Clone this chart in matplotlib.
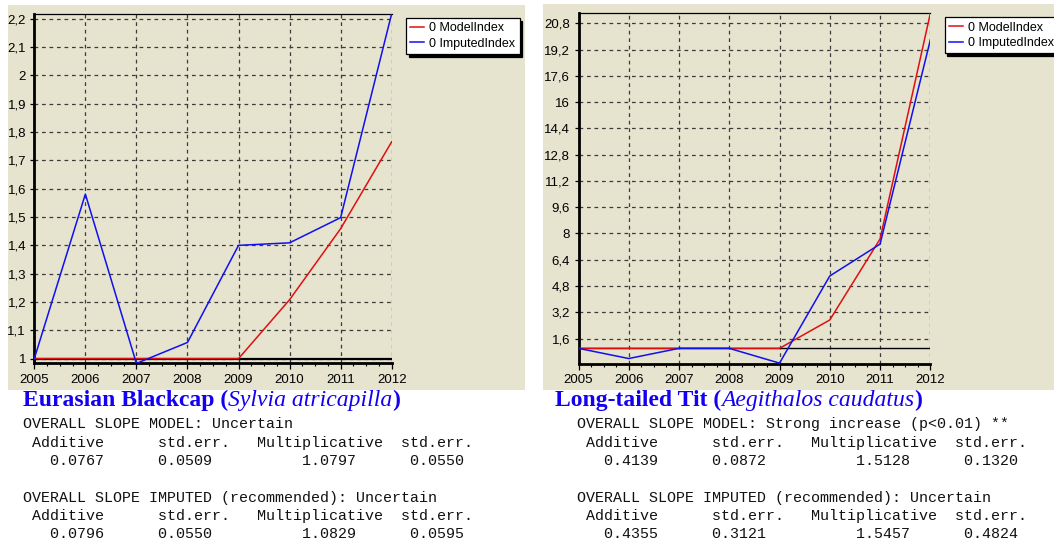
import matplotlib
matplotlib.use("Agg")
import matplotlib.pyplot as plt
from matplotlib.patches import Rectangle
from matplotlib.ticker import FixedLocator, AutoMinorLocator, FuncFormatter

W, H = 1054, 541
BEIGE = "#E6E3CE"
RED = "#E01010"
BLUE = "#1010F0"

years = [2005, 2006, 2007, 2008, 2009, 2010, 2011, 2012]

# Eurasian Blackcap
blackcap_model = [1.0, 1.0, 1.0, 1.0, 1.0, 1.208, 1.459, 1.766]
blackcap_imputed = [1.0, 1.581, 0.983, 1.057, 1.40, 1.409, 1.498, 2.219]
blackcap_yticks = [1.0, 1.1, 1.2, 1.3, 1.4, 1.5, 1.6, 1.7, 1.8, 1.9, 2.0, 2.1, 2.2]

# Long-tailed Tit
tit_model = [1.0, 1.0, 1.0, 1.0, 1.0, 2.73, 7.66, 21.4]
tit_imputed = [1.0, 0.38, 1.0, 1.0, 0.1, 5.41, 7.35, 19.78]
tit_yticks = [1.6, 3.2, 4.8, 6.4, 8.0, 9.6, 11.2, 12.8, 14.4, 16.0, 17.6, 19.2, 20.8]

series_labels = ["0 ModelIndex", "0 ImputedIndex"]

blackcap_slope_model = ["Uncertain", "0.0767", "0.0509", "1.0797", "0.0550"]
blackcap_slope_imputed = ["Uncertain", "0.0796", "0.0550", "1.0829", "0.0595"]
tit_slope_model = ["Strong increase (p<0.01) **", "0.4139", "0.0872", "1.5128", "0.1320"]
tit_slope_imputed = ["Uncertain", "0.4355", "0.3121", "1.5457", "0.4824"]

fig = plt.figure(figsize=(W / 100, H / 100), dpi=100)
fig.patch.set_facecolor("white")


def px_rect(x0, y0, x1, y1):
    return [x0 / W, 1 - y1 / H, (x1 - x0) / W, (y1 - y0) / H]


def comma(v, pos=None):
    s = f"{round(v, 1):g}"
    return s.replace(".", ",")


def panel(box, bg, ylim, yticks, model, imputed, legend_xy, base_lw):
    x0, y0, x1, y1 = bg
    fig.add_artist(Rectangle((x0 / W, 1 - y1 / H), (x1 - x0) / W, (y1 - y0) / H,
                             transform=fig.transFigure, facecolor=BEIGE,
                             edgecolor="none", zorder=-5))
    ax = fig.add_axes(px_rect(*box))
    ax.set_facecolor(BEIGE)
    ax.set_xlim(years[0], years[-1])
    ax.set_ylim(*ylim)
    ax.xaxis.set_major_locator(FixedLocator(years))
    ax.xaxis.set_minor_locator(AutoMinorLocator(4))
    ax.yaxis.set_major_locator(FixedLocator(yticks))
    ax.yaxis.set_major_formatter(FuncFormatter(comma))
    ax.grid(True, which="major", color="#3c3c3c", linestyle=(0, (3, 3)), linewidth=0.9)
    ax.set_axisbelow(True)

    ax.axhline(1.0, color="black", lw=base_lw, zorder=2)
    ax.plot(years, model, color=RED, lw=1.1, zorder=3, label=series_labels[0])
    ax.plot(years, imputed, color=BLUE, lw=1.1, zorder=4, label=series_labels[1])

    for side in ("left", "bottom"):
        ax.spines[side].set_linewidth(2.0)
    ax.spines["top"].set_linewidth(0.9)
    ax.spines["right"].set_visible(False)

    ax.tick_params(axis="x", which="major", length=4, width=0.9, pad=3.5,
                   labelsize=9.5, direction="out")
    ax.tick_params(axis="x", which="minor", length=2.5, width=0.8, direction="out")
    ax.tick_params(axis="y", which="major", length=3, width=0.9, pad=3,
                   labelsize=9.5, direction="out")
    for lab in ax.get_xticklabels() + ax.get_yticklabels():
        lab.set_fontfamily("Liberation Sans")

    leg = ax.legend(loc="upper left", bbox_to_anchor=(legend_xy[0] / W, 1 - legend_xy[1] / H),
                    bbox_transform=fig.transFigure, borderaxespad=0, fancybox=False,
                    shadow={"color": "black", "alpha": 1.0}, framealpha=1,
                    edgecolor="black", facecolor="white",
                    prop={"family": "Liberation Sans", "size": 9},
                    handlelength=1.1, handletextpad=0.4, labelspacing=0.25,
                    borderpad=0.35)
    leg.get_frame().set_linewidth(0.9)
    return ax


panel((34.3, 13.5, 391.7, 363.3), (8.4, 4.5, 525, 390), (0.9834, 2.219),
      blackcap_yticks, blackcap_model, blackcap_imputed, (406, 18), 1.6)
panel((578.5, 12.7, 930.3, 363.5), (543.4, 4, 1054, 390), (0.077, 21.45),
      tit_yticks, tit_model, tit_imputed, (944.7, 17.4), 1.0)

renderer = fig.canvas.get_renderer()


def rich_title(x, y, parts, size):
    for txt, style, weight in parts:
        t = fig.text(x / W, 1 - y / H, txt, color="#1400F0", fontsize=size,
                     family="Liberation Serif", style=style, weight=weight,
                     ha="left", va="baseline")
        x += t.get_window_extent(renderer).width


rich_title(23, 406.4, [("Eurasian Blackcap (", "normal", "bold"),
                       ("Sylvia atricapilla", "italic", "normal"),
                       (")", "normal", "bold")], 17)
rich_title(555, 406.4, [("Long-tailed Tit (", "normal", "bold"),
                        ("Aegithalos caudatus", "italic", "normal"),
                        (")", "normal", "bold")], 17)

header = " Additive" + " " * 6 + "std.err." + " " * 3 + "Multiplicative" + " " * 2 + "std.err."


def value_row(vals):
    return ("   " + vals[0] + " " * 6 + vals[1] + " " * 10 + vals[2] + " " * 6 + vals[3])


def stats_block(x, model, imputed):
    lines = ["OVERALL SLOPE MODEL: " + model[0], header, value_row(model[1:]), "",
             "OVERALL SLOPE IMPUTED (recommended): " + imputed[0], header,
             value_row(imputed[1:])]
    for i, line in enumerate(lines):
        yc = 424 + i * 18.33
        fig.text(x / W, 1 - (yc + 4.3) / H, line, family="Liberation Mono",
                 fontsize=10.85, color="#111111", ha="left", va="baseline")


stats_block(22.6, blackcap_slope_model, blackcap_slope_imputed)
stats_block(576.8, tit_slope_model, tit_slope_imputed)

fig.savefig("out.png", dpi=100)
